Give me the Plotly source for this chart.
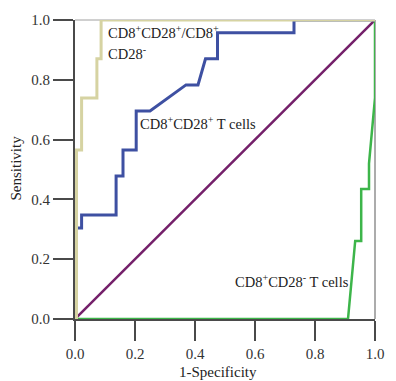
import plotly.graph_objects as go

# ROC curve data (1-Specificity, Sensitivity)
ratio_fpr = [0.005, 0.005, 0.022, 0.022, 0.073, 0.073, 0.087, 0.087, 1.0]
ratio_tpr = [0.0, 0.565, 0.565, 0.739, 0.739, 0.870, 0.870, 1.0, 1.0]

pos_fpr = [0.005, 0.005, 0.022, 0.022, 0.137, 0.137, 0.160, 0.160, 0.204, 0.204, 0.250,
           0.370, 0.410, 0.435, 0.475, 0.475, 0.730, 0.730, 1.0]
pos_tpr = [0.0, 0.304, 0.304, 0.348, 0.348, 0.478, 0.478, 0.565, 0.565, 0.696, 0.696,
           0.783, 0.783, 0.870, 0.870, 0.957, 0.957, 1.0, 1.0]

neg_fpr = [0.0, 0.910, 0.934, 0.954, 0.954, 0.980, 0.980, 1.0, 1.0]
neg_tpr = [0.0, 0.0, 0.261, 0.261, 0.435, 0.435, 0.520, 0.740, 1.0]

ref_fpr = [0.0, 1.0]
ref_tpr = [0.0, 1.0]

tick_vals = [0.0, 0.2, 0.4, 0.6, 0.8, 1.0]
tick_text = ["0.0", "0.2", "0.4", "0.6", "0.8", "1.0"]

FONT = "Liberation Serif, Times New Roman, serif"

fig = go.Figure()
fig.add_trace(go.Scatter(x=ref_fpr, y=ref_tpr, mode="lines",
                         line=dict(color="#74206a", width=2.5)))
fig.add_trace(go.Scatter(x=neg_fpr, y=neg_tpr, mode="lines",
                         line=dict(color="#3db54a", width=2.5)))
fig.add_trace(go.Scatter(x=pos_fpr, y=pos_tpr, mode="lines",
                         line=dict(color="#3e50a2", width=3)))
fig.add_trace(go.Scatter(x=ratio_fpr, y=ratio_tpr, mode="lines",
                         line=dict(color="#d6d3a2", width=3)))

axis_common = dict(
    range=[0, 1], tickvals=tick_vals, ticktext=tick_text,
    showgrid=False, zeroline=False, showline=True, linecolor="#4a4a4a", linewidth=2,
    ticks="outside", ticklen=20, tickwidth=2, tickcolor="#4a4a4a",
    tickfont=dict(family=FONT, size=15, color="#333333"),
)
fig.update_xaxes(**axis_common)
fig.update_yaxes(**axis_common)

# light frame on top and right
fig.add_shape(type="line", xref="x domain", yref="y domain", x0=0, x1=1, y0=1, y1=1,
              line=dict(color="#a0a0a0", width=1), layer="below")
fig.add_shape(type="line", xref="x domain", yref="y domain", x0=1, x1=1, y0=0, y1=1,
              line=dict(color="#909090", width=1.5), layer="below")

lab_font = dict(family=FONT, size=14.5, color="#222222")
title_font = dict(family=FONT, size=15, color="#222222")
annos = [
    dict(x=0.104, y=0.959, text="CD8<sup>+</sup>CD28<sup>+</sup>/CD8<sup>+</sup>"),
    dict(x=0.104, y=0.888, text="CD28<sup>-</sup>"),
    dict(x=0.211, y=0.654, text="CD8<sup>+</sup>CD28<sup>+</sup> T cells"),
    dict(x=0.528, y=0.128, text="CD8<sup>+</sup>CD28<sup>-</sup> T cells"),
]
for a in annos:
    fig.add_annotation(x=a["x"], y=a["y"], text=a["text"], xref="x", yref="y",
                       xanchor="left", yanchor="middle", showarrow=False, font=lab_font)

fig.add_annotation(x=0.475, y=-0.177, xref="paper", yref="paper", text="1-Specificity",
                   showarrow=False, xanchor="center", yanchor="middle", font=title_font)
fig.add_annotation(x=-0.195, y=0.505, xref="paper", yref="paper", text="Sensitivity",
                   textangle=-90, showarrow=False, xanchor="center", yanchor="middle",
                   font=title_font)

fig.update_layout(
    width=396, height=381,
    margin=dict(l=75, r=16, t=14, b=62),
    paper_bgcolor="white", plot_bgcolor="white",
    showlegend=False,
)

fig.write_html(
    "out.html",
    config={"displayModeBar": False},
    post_script="document.body.style.margin='0';document.body.style.overflow='hidden';",
)
